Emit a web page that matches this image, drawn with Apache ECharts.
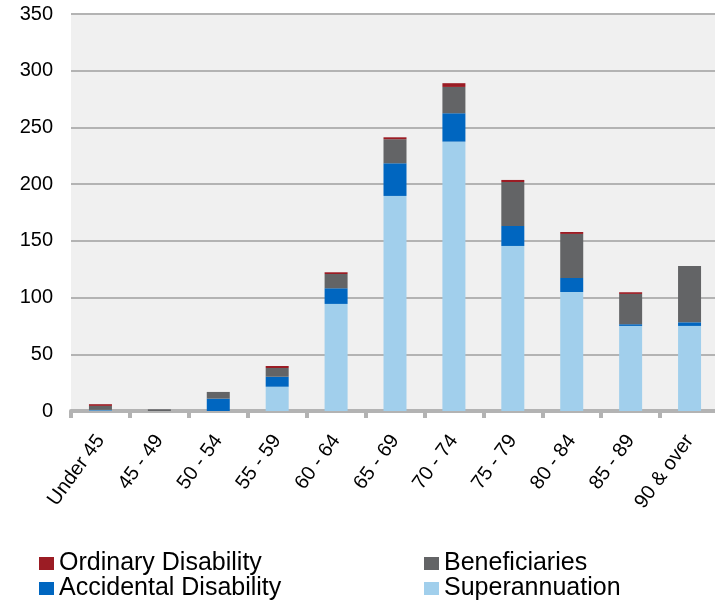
<!DOCTYPE html>
<html>
<head>
<meta charset="utf-8">
<script src="https://cdn.jsdelivr.net/npm/echarts@6/dist/echarts.min.js"></script>
<style>
  html, body { margin: 0; padding: 0; background: #ffffff; }
  #chart { width: 715px; height: 605px; }
</style>
</head>
<body>
<div id="chart"></div>
<script>
// Members by age band, stacked by benefit type
const ageBands = ['Under 45', '45 - 49', '50 - 54', '55 - 59', '60 - 64', '65 - 69',
                  '70 - 74', '75 - 79', '80 - 84', '85 - 89', '90 & over'];
const superannuation       = [0.5, 0,   0,    21.4, 94.4,  189.6, 237.5, 145.5, 104.9, 75.0, 75.0];
const accidentalDisability = [0.5, 0,   10.9, 8.8,  13.8,  28.8,  25.0,  17.6,  12.4,  1.5,  3.2];
const beneficiaries        = [3.5, 1.5, 5.9,  7.7,  12.6,  21.2,  23.2,  38.8,  38.8,  26.7, 49.7];
const ordinaryDisability   = [1.5, 0,   0,    1.8,  1.5,   1.7,   3.3,   1.8,   1.7,   1.5,  0];
const yTicks = { min: 0, max: 350, interval: 50 };

const colors = {
  ordinary: '#9b1c24',
  beneficiaries: '#636466',
  accidental: '#0066c0',
  superannuation: '#a1cfec'
};

const FONT = 'Liberation Sans, Arial, sans-serif';

const chart = echarts.init(document.getElementById('chart'), null, { renderer: 'canvas' });

function barSeries(name, data, color) {
  return {
    name: name,
    type: 'bar',
    stack: 'total',
    data: data,
    barWidth: 23,
    itemStyle: { color: color },
    emphasis: { disabled: true }
  };
}

// one legend entry per component so the 2x2 block sits exactly
function legendEntry(name, left, top) {
  return {
    left: left, top: top, padding: 0,
    itemWidth: 15, itemHeight: 13, icon: 'rect',
    textStyle: { fontFamily: FONT, fontSize: 25, color: '#000' },
    data: [name]
  };
}

chart.setOption({
  animation: false,
  textStyle: { fontFamily: FONT },
  grid: {
    left: 71, right: -4, top: 14, bottom: 194,
    outerBoundsMode: 'none',
    show: true, backgroundColor: '#f0f0f0', borderWidth: 0
  },
  legend: [
    legendEntry('Ordinary Disability', 39, 551),
    legendEntry('Accidental Disability', 39, 576),
    legendEntry('Beneficiaries', 424, 551),
    legendEntry('Superannuation', 424, 576)
  ],
  xAxis: {
    type: 'category',
    data: ageBands,
    axisLine: { show: true, lineStyle: { color: '#b3b3b3', width: 4 } },
    axisTick: { show: true, length: 7, lineStyle: { color: '#b3b3b3', width: 4 } },
    axisLabel: {
      rotate: 54, fontSize: 20, color: '#000', margin: 26, interval: 0
    }
  },
  yAxis: {
    type: 'value',
    min: yTicks.min, max: yTicks.max, interval: yTicks.interval,
    axisLine: { show: false },
    axisTick: { show: false },
    axisLabel: { fontSize: 20, color: '#000', margin: 18 },
    splitLine: { lineStyle: { color: '#b3b3b3', width: 2 } }
  },
  series: [
    barSeries('Superannuation', superannuation, colors.superannuation),
    barSeries('Accidental Disability', accidentalDisability, colors.accidental),
    barSeries('Beneficiaries', beneficiaries, colors.beneficiaries),
    barSeries('Ordinary Disability', ordinaryDisability, colors.ordinary)
  ]
});
</script>
</body>
</html>
